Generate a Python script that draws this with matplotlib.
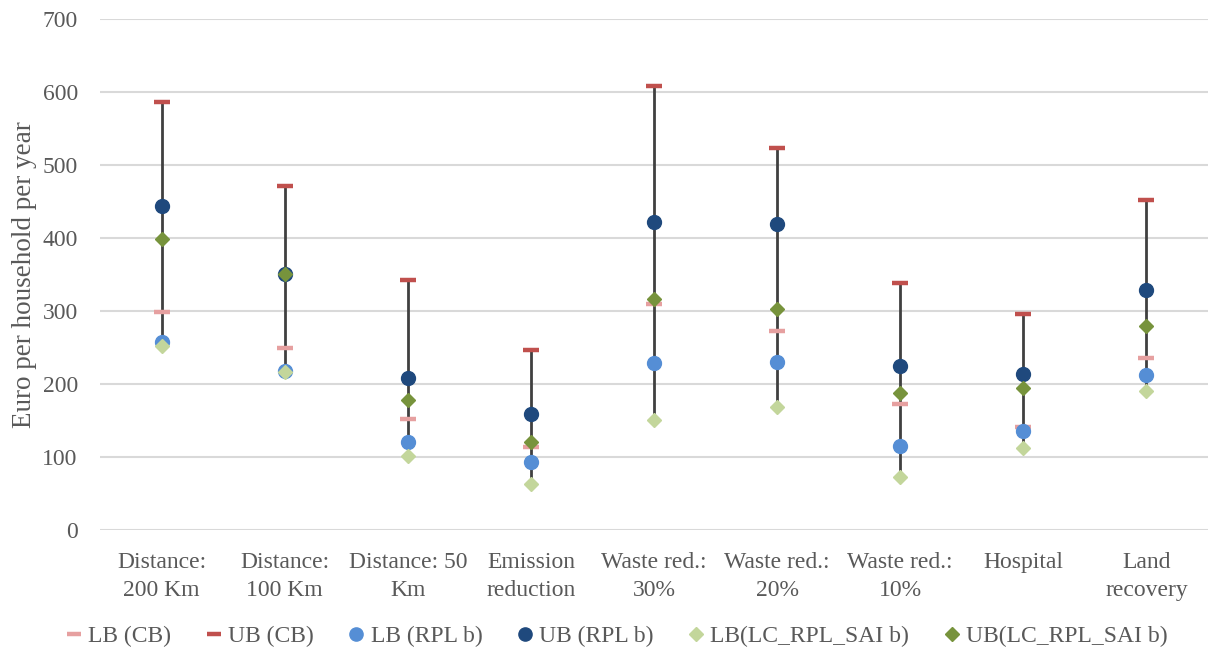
import matplotlib
matplotlib.use("Agg")
import matplotlib.pyplot as plt
import numpy as np

categories = [
    "Distance:\n200 Km", "Distance:\n100 Km", "Distance: 50\nKm", "Emission\nreduction",
    "Waste red.:\n30%", "Waste red.:\n20%", "Waste red.:\n10%", "Hospital\n", "Land\nrecovery",
]

lb_cb = [299, 250, 152, 114, 309, 273, 172, 141, 236]
ub_cb = [586, 471, 342, 246, 608, 523, 339, 296, 452]
lb_rpl = [258, 218, 120, 93, 229, 230, 115, 136, 213]
ub_rpl = [444, 351, 208, 159, 422, 419, 224, 214, 329]
lb_lc = [252, 217, 101, 63, 151, 168, 73, 113, 190]
ub_lc = [398, 351, 178, 121, 316, 303, 188, 194, 279]

plt.rcParams["font.family"] = ["Liberation Serif", "DejaVu Serif"]
TEXT = "#595959"

fig = plt.figure(figsize=(12.08, 6.51), dpi=100)
ax = fig.add_axes([100 / 1208, 1 - 530 / 651, 1108 / 1208, 511 / 651])

x = np.arange(len(categories))
allv = np.array([lb_cb, ub_cb, lb_rpl, ub_rpl, lb_lc, ub_lc])
ax.vlines(x, allv.min(axis=0), allv.max(axis=0), color="#404040", lw=2, zorder=2)

series = [
    ("LB (CB)", lb_cb, "_", "#E6A0A0", 11),
    ("UB (CB)", ub_cb, "_", "#C0504D", 11),
    ("LB (RPL b)", lb_rpl, "o", "#558ED5", 10),
    ("UB (RPL b)", ub_rpl, "o", "#1F497D", 10),
    ("LB(LC_RPL_SAI b)", lb_lc, "D", "#C3D69B", 7),
    ("UB(LC_RPL_SAI b)", ub_lc, "D", "#77933C", 7),
]
handles = []
for i, (name, vals, m, c, s) in enumerate(series):
    if m == "_":
        h, = ax.plot(x, vals, ls="none", marker=m, ms=s, mew=3.2, color=c,
                     label=name, zorder=3 + i)
    else:
        h, = ax.plot(x, vals, ls="none", marker=m, ms=s, color=c, mec=c,
                     label=name, zorder=3 + i)
    handles.append(h)

ax.set_xlim(-0.5, len(categories) - 0.5)
ax.set_ylim(0, 700)
ax.set_yticks(range(0, 701, 100))
ax.yaxis.grid(True, color="#D9D9D9", lw=1.5)
ax.set_axisbelow(True)
for sp in ax.spines.values():
    sp.set_visible(False)
ax.tick_params(length=0, labelsize=17, colors=TEXT, pad=16)
ax.tick_params(axis="x", pad=16)
ax.set_xticks(x)
ax.set_xticklabels(categories, fontsize=17, color=TEXT, linespacing=1.45)
ax.set_ylabel("Euro per household per year", fontsize=19.5, color=TEXT, labelpad=4)

leg = fig.legend(handles=handles, loc="center", bbox_to_anchor=(0.51, 1 - 636 / 651),
                 ncol=6, frameon=False, fontsize=17, handlelength=0.8,
                 handletextpad=0.2, columnspacing=1.4, markerscale=0.95)
for t in leg.get_texts():
    t.set_color(TEXT)

fig.savefig("out.png", dpi=100, facecolor="white")
